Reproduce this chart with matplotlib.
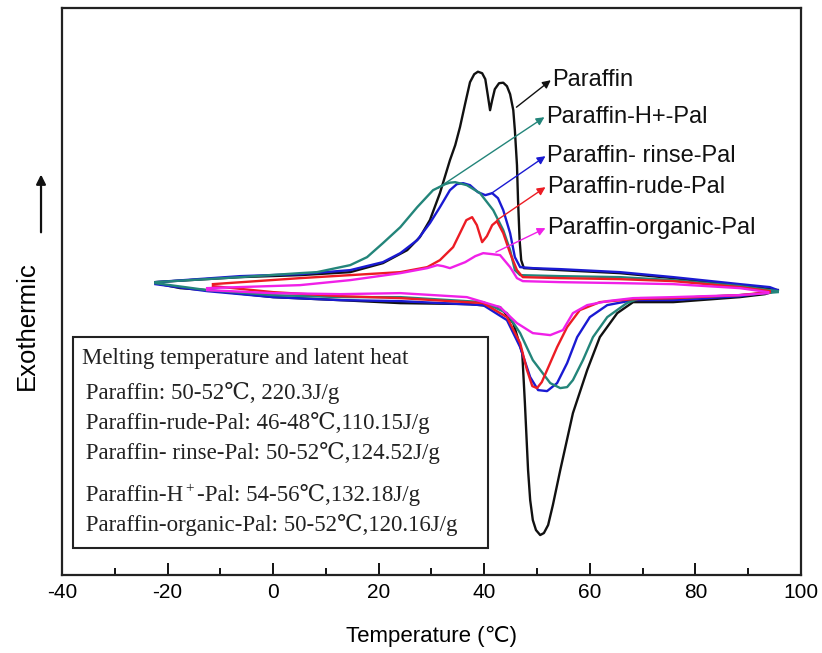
import matplotlib
matplotlib.use('Agg')
import matplotlib.pyplot as plt
from matplotlib.patches import Rectangle, FancyArrowPatch

plt.rcParams['font.family'] = ['Liberation Sans', 'DejaVu Sans']
plt.rcParams['axes.unicode_minus'] = False

# DSC loops: (temperature degC, heat flow a.u.)
# cooling branch (upper, exothermic) and heating branch (lower, endothermic)
black_up_T = [-22.3, -6.25, 5.1, 14.6, 20.8, 25.4, 27.8, 29.7, 31.6, 33.5, 34.5, 35.4, 36.4, 37.3, 38.1, 38.8,
              39.6, 40.2, 40.7, 41.1, 41.5, 42.0, 42.8, 43.6, 44.3, 44.9, 45.5, 45.8, 46.2, 46.4, 46.7, 47.0,
              47.5, 54.4, 65.7, 75.8, 88.4, 95.6]
black_up_y = [0.08, 0.13, 0.15, 0.18, 0.27, 0.40, 0.53, 0.70, 0.97, 1.30, 1.45, 1.63, 1.87, 2.08, 2.16, 2.185,
              2.17, 2.11, 1.94, 1.80, 1.90, 2.01, 2.07, 2.075, 2.04, 1.96, 1.80, 1.60, 1.25, 0.90, 0.50, 0.30,
              0.22, 0.20, 0.17, 0.12, 0.05, 0.00]
black_lo_T = [-22.3, -17.6, -12.5, 0.0, 12.7, 24.1, 37.3, 43.0, 45.5, 47.2, 47.7, 48.3, 48.7, 49.2, 49.8, 50.6,
              51.3, 52.1, 53.0, 54.4, 56.8, 59.5, 61.9, 65.2, 68.2, 75.8, 88.4, 93.2, 95.6]
black_lo_y = [0.07, 0.02, 0.00, -0.07, -0.10, -0.13, -0.14, -0.17, -0.33, -0.63, -1.13, -1.80, -2.10, -2.30, -2.40, -2.45,
              -2.43, -2.35, -2.15, -1.80, -1.23, -0.80, -0.47, -0.23, -0.12, -0.12, -0.07, -0.04, 0.00]

blue_up_T = [-22.3, -6.25, 5.1, 14.6, 20.8, 24.1, 27.3, 29.7, 31.6, 33.5, 34.8, 36.0, 37.3, 38.8, 40.2,
             41.5, 42.6, 43.6, 44.9, 45.8, 46.8, 49.2, 54.4, 65.7, 75.8, 88.4, 94.1, 95.6]
blue_up_y = [0.08, 0.14, 0.16, 0.20, 0.28, 0.37, 0.50, 0.67, 0.83, 1.00, 1.06, 1.07, 1.05, 0.98, 0.95,
             0.97, 0.92, 0.80, 0.57, 0.33, 0.23, 0.22, 0.21, 0.18, 0.13, 0.06, 0.03, 0.00]
blue_lo_T = [-22.3, -12.5, 0.0, 12.7, 24.1, 39.8, 44.3, 46.8, 48.7, 50.2, 51.9, 53.8, 55.7, 57.6, 60.0,
             63.3, 68.2, 75.8, 88.4, 95.6]
blue_lo_y = [0.06, -0.01, -0.07, -0.10, -0.11, -0.15, -0.30, -0.57, -0.87, -1.00, -1.01, -0.93, -0.73, -0.47, -0.27,
             -0.15, -0.10, -0.10, -0.06, -0.01]

teal_up_T = [-22.3, -6.25, 5.1, 8.3, 14.6, 17.8, 20.8, 24.1, 27.3, 30.3, 32.6, 33.5, 34.5, 36.7, 39.2, 41.7,
             43.6, 44.9, 45.8, 46.8, 54.4, 65.7, 75.8, 88.4, 95.6]
teal_up_y = [0.08, 0.13, 0.17, 0.18, 0.25, 0.33, 0.47, 0.63, 0.83, 1.00, 1.06, 1.075, 1.08, 1.05, 0.97, 0.80,
             0.60, 0.40, 0.20, 0.15, 0.14, 0.13, 0.10, 0.04, -0.01]
teal_lo_T = [-22.3, -12.5, 0.0, 12.7, 24.1, 39.8, 44.3, 46.8, 49.2, 52.5, 54.4, 55.7, 56.8, 58.7, 60.6,
             63.3, 67.0, 69.5, 75.8, 88.4, 95.6]
teal_lo_y = [0.07, 0.00, -0.05, -0.07, -0.07, -0.12, -0.23, -0.43, -0.70, -0.93, -0.98, -0.97, -0.90, -0.70, -0.47,
             -0.27, -0.13, -0.08, -0.08, -0.05, -0.02]

red_up_T = [-11.4, 5.1, 14.6, 24.1, 29.2, 31.6, 34.1, 35.4, 36.6, 37.7, 38.6, 39.6, 40.5, 41.5, 42.4,
            43.6, 44.9, 46.2, 47.3, 54.4, 65.7, 75.8, 88.4, 94.1]
red_up_y = [0.06, 0.12, 0.15, 0.18, 0.23, 0.30, 0.43, 0.57, 0.70, 0.73, 0.65, 0.48, 0.54, 0.65, 0.69,
            0.57, 0.37, 0.20, 0.13, 0.12, 0.11, 0.09, 0.03, -0.01]
red_lo_T = [-11.4, 0.0, 12.7, 24.1, 39.8, 44.3, 46.8, 48.1, 49.1, 50.0, 50.9, 51.9, 53.8, 55.7, 58.1,
            61.9, 68.2, 75.8, 88.4, 94.1]
red_lo_y = [0.04, -0.02, -0.06, -0.08, -0.13, -0.27, -0.53, -0.80, -0.96, -0.98, -0.92, -0.80, -0.57, -0.37, -0.20,
            -0.12, -0.09, -0.08, -0.05, -0.02]

mag_up_T = [-12.5, 5.1, 14.6, 24.1, 29.2, 31.1, 32.2, 33.5, 36.4, 38.3, 39.8, 41.5, 43.0, 44.9, 46.2,
            47.3, 54.4, 65.7, 75.8, 88.4, 93.8]
mag_up_y = [0.02, 0.05, 0.10, 0.17, 0.22, 0.25, 0.24, 0.22, 0.28, 0.34, 0.37, 0.36, 0.35, 0.23, 0.12,
            0.09, 0.08, 0.07, 0.06, 0.02, -0.02]
mag_lo_T = [-12.5, 0.0, 12.7, 24.1, 36.7, 43.0, 46.2, 49.2, 52.5, 54.9, 56.8, 59.5, 63.3, 68.2, 75.8,
            88.4, 93.8]
mag_lo_y = [0.00, -0.03, -0.04, -0.03, -0.07, -0.17, -0.33, -0.43, -0.45, -0.40, -0.23, -0.15, -0.11, -0.08, -0.07,
            -0.05, -0.03]

series = [
    ("Paraffin", '#111111', black_up_T, black_up_y, black_lo_T, black_lo_y),
    ("Paraffin- rinse-Pal", '#1a1ad2', blue_up_T, blue_up_y, blue_lo_T, blue_lo_y),
    ("Paraffin-H+-Pal", '#23857a', teal_up_T, teal_up_y, teal_lo_T, teal_lo_y),
    ("Paraffin-rude-Pal", '#ec1c24', red_up_T, red_up_y, red_lo_T, red_lo_y),
    ("Paraffin-organic-Pal", '#f020e8', mag_up_T, mag_up_y, mag_lo_T, mag_lo_y),
]

# label arrows: (start T, start y, label T, label y)
labels = {
    "Paraffin": (46.1, 1.83, 52.6, 2.10),
    "Paraffin-H+-Pal": (31.2, 1.02, 51.4, 1.73),
    "Paraffin- rinse-Pal": (41.4, 0.97, 51.6, 1.34),
    "Paraffin-rude-Pal": (42.4, 0.70, 51.6, 1.03),
    "Paraffin-organic-Pal": (42.2, 0.38, 51.6, 0.62),
}

box_title = "Melting temperature and latent heat"
box_rows = [
    " Paraffin: 50-52\u2103, 220.3J/g",
    " Paraffin-rude-Pal: 46-48\u2103,110.15J/g",
    " Paraffin- rinse-Pal: 50-52\u2103,124.52J/g",
    (" Paraffin-H", "+", "-Pal: 54-56\u2103,132.18J/g"),
    " Paraffin-organic-Pal: 50-52\u2103,120.16J/g",
]
box_y = [-0.74, -1.09, -1.39, -1.69, -2.11, -2.41]

fig = plt.figure(figsize=(8.22, 6.53), dpi=100)
ax = fig.add_axes([0.0754, 0.1194, 0.899, 0.868])

for name, color, uT, uy, lT, ly in series:
    ax.plot(uT, uy, color=color, lw=1.7, solid_joinstyle='round')
    ax.plot(lT, ly, color=color, lw=1.7, solid_joinstyle='round')

for name, color, *_ in series:
    x0, y0, x1, y1 = labels[name]
    ax.annotate('', xy=(x1, y1), xytext=(x0, y0),
                arrowprops=dict(arrowstyle='-|>', color=color, lw=1.0, mutation_scale=12,
                                shrinkA=0, shrinkB=0))
    ax.text(x1 + 0.3, y1, name, fontsize=17, va='center', ha='left', color='#111111')

ax.add_patch(Rectangle((-37.9, -2.58), 78.6, 2.11, fill=True, facecolor='white',
                       edgecolor='#222222', lw=1.5, zorder=5))

ax.set_xlim(-40, 100)
ax.set_ylim(-2.85, 2.82)

serif = ['Liberation Serif', 'DejaVu Serif']
tkw = dict(fontsize=16.5, va='baseline', ha='left', zorder=6, family=serif, color='#222222')
ax.text(-36.3, box_y[0], box_title, **tkw)
fig.canvas.draw()
renderer = fig.canvas.get_renderer()
for row, yy in zip(box_rows, box_y[1:]):
    if isinstance(row, str):
        ax.text(-36.6, yy, row, **tkw)
        continue
    # superscript "+" drawn as its own small text
    t1 = ax.text(-36.6, yy, row[0], **tkw)
    bb1 = t1.get_window_extent(renderer)
    ybase = ax.transData.transform((0, yy))[1]
    t2 = ax.annotate(row[1], xy=(bb1.x1 + 2, ybase + 9), xycoords='figure pixels',
                     fontsize=11, va='baseline', ha='left', zorder=6, family=serif, color='#222222')
    bb2 = t2.get_window_extent(renderer)
    ax.annotate(row[2], xy=(bb2.x1 + 3, ybase), xycoords='figure pixels', **tkw)

ax.set_xticks(range(-40, 101, 20))
ax.set_xticks(range(-30, 100, 20), minor=True)
ax.set_yticks([])
ax.tick_params(axis='x', which='major', direction='in', length=8.5, width=1.3, labelsize=15, pad=6)
ax.tick_params(axis='x', which='minor', direction='in', length=5, width=1.3)
for sp in ax.spines.values():
    sp.set_linewidth(1.6)
    sp.set_color('#222222')

ax.set_xlabel('Temperature (\u2103)', fontsize=16, labelpad=17)

fig.text(0.033, 0.502, 'Exothermic', rotation=90, fontsize=18.5, ha='center', va='center')
fig.patches.append(FancyArrowPatch((0.0499, 0.640), (0.0499, 0.737),
                   transform=fig.transFigure, arrowstyle='-|>', mutation_scale=14,
                   color='#111111', lw=1.6))

plt.savefig('out.png', dpi=100)
plt.close()
